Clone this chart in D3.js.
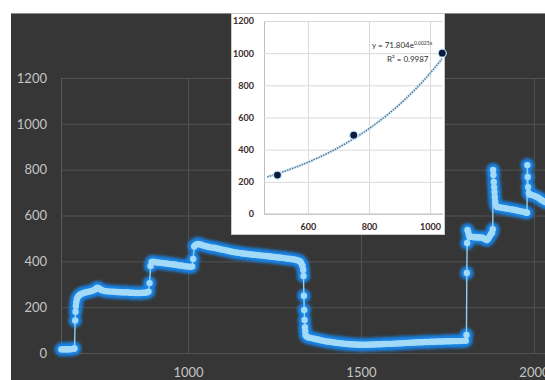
<!DOCTYPE html>
<html><head><meta charset="utf-8">
<script src="https://cdn.jsdelivr.net/npm/d3@7"></script>
<style>html,body{margin:0;padding:0;background:#fff;} svg{display:block}</style>
</head><body>
<svg id="c" width="545" height="380"></svg>
<script>
// ---------- data ----------
const mainX = [634,638,642,646,650,654,658,662,666,670,672,
674,675,676,677,679,682,686,690,695,700,706,712,718,724,730,734,738,742,746,750,756,762,768,774,780,786,792,798,804,810,816,822,828,834,840,846,852,858,864,870,876,882,886,
889,892,895,900,906,912,918,924,930,936,942,948,954,960,966,972,978,984,990,996,1002,1008,1012,
1015,1018,1022,1026,1030,1035,1040,1046,1052,1058,1064,1070,1076,1082,1088,1094,1100,1106,1112,1118,1124,1130,1136,1142,1148,1154,1160,1166,1172,1178,1184,1190,1196,1202,1208,1214,1220,1226,1232,1238,1244,1250,1256,1262,1268,1274,1280,1286,1292,1298,1304,1310,1316,1322,1326,1329,1331,
1333,1334,1335,1336,1337,1338,1339,1340,1343,1348,1354,1360,1366,1372,1378,1384,1390,1396,1402,1408,1414,1420,1426,1432,1438,1444,1450,1456,1462,1468,1474,1480,1486,1492,1498,1504,1510,1516,1522,1528,1534,1540,1546,1552,1558,1564,1570,1576,1582,1588,1594,1600,1606,1612,1618,1624,1630,1636,1642,1648,1654,1660,1666,1672,1678,1684,1690,1696,1702,1708,1714,1720,1726,1732,1738,1744,1750,1756,1762,1768,1774,1780,1786,1792,1798,1803,
1805,1806,1807,1808,1810,1812,1815,1820,1825,1830,1835,1840,1845,1850,1855,1860,1864,1868,1872,1876,1879,
1881,1882,1883,1884,1885,1886,1887,1888,1890,1894,1900,1906,1912,1918,1924,1930,1936,1942,1948,1954,1960,1966,1972,1977,1980,
1981,1982,1983,1985,1988,1992,1998,2004,2010,2016,2022,2028,2034,2040];
const mainY = [16,15,17,16,15,16,17,16,18,19,20,
142,180,205,222,236,246,252,257,260,263,265,267,269,272,276,280,285,283,278,275,272,270,269,268,268,267,266,266,265,265,264,265,264,263,263,262,262,262,262,263,263,265,268,
305,380,397,398,396,395,394,393,392,391,390,388,387,386,385,383,382,381,379,378,377,376,378,
410,465,472,475,476,474,471,468,466,464,462,460,459,457,455,453,451,449,447,445,443,441,440,438,437,435,434,433,432,431,430,429,428,427,426,425,424,423,422,421,420,419,418,417,416,415,414,412,411,410,409,407,405,402,396,388,380,
362,336,250,188,144,113,95,79,72,68,66,64,62,60,58,56,54,52,50,49,48,47,45,44,43,42,41,40,39,38,38,37,37,36,36,36,36,36,36,37,37,37,38,38,38,39,39,40,40,40,41,41,42,42,43,43,44,44,45,45,46,46,47,47,47,48,48,48,49,49,49,50,50,50,50,51,51,51,51,52,52,52,52,53,53,54,
79,349,480,537,528,515,506,508,505,506,504,505,503,504,500,496,493,500,510,520,525,
540,799,777,746,724,703,681,660,645,637,636,634,633,631,630,628,626,625,623,621,619,617,615,613,612,
820,768,724,698,692,690,688,684,680,674,668,662,658,655];
const mainXTicks = [1000, 1500, 2000];
const mainYTicks = [0, 200, 400, 600, 800, 1000, 1200];

const insetX = [500, 750, 1040];
const insetY = [242, 490, 1000];
const insetXTicks = [600, 800, 1000];
const insetYTicks = [0, 200, 400, 600, 800, 1000, 1200];
const trendA = 71.804, trendB = 0.0025;
const trendText = "y = 71.804e", trendExpText = "0.0025x", r2Text = "R² = 0.9987";

// ---------- drawing ----------
const svg = d3.select('#c');
const defs = svg.append('defs');
const f = defs.append('filter').attr('id','glow').attr('x','-50%').attr('y','-50%').attr('width','200%').attr('height','200%');
f.append('feGaussianBlur').attr('stdDeviation', 1.6);
const f2 = defs.append('filter').attr('id','soft').attr('x','-50%').attr('y','-50%').attr('width','200%').attr('height','200%');
f2.append('feGaussianBlur').attr('stdDeviation', 0.6);

svg.append('rect').attr('x', 11).attr('y', 13).attr('width', 534).attr('height', 367).attr('fill', '#363636');
svg.append('line').attr('x1', 11).attr('x2', 545).attr('y1', 13.5).attr('y2', 13.5).attr('stroke', '#8a8a8a').attr('stroke-width', 1);

const x = d3.scaleLinear().domain([633, 2032]).range([61, 545]);
const y = d3.scaleLinear().domain([0, 1200]).range([353, 78]);
const font = "Lato, 'Open Sans', sans-serif";

const gy = svg.append('g').attr('transform', 'translate(61,0)')
  .call(d3.axisLeft(y).tickValues(mainYTicks).tickSize(-484).tickSizeOuter(0).tickPadding(14).tickFormat(d3.format('d')));
gy.select('.domain').attr('stroke', '#5a5a5a');
gy.selectAll('.tick line').attr('stroke', '#535353');
gy.selectAll('.tick text').attr('fill', '#c4c4c4').style('font-family', font).style('font-size', '13px');

const gx = svg.append('g').attr('transform', 'translate(0,353)')
  .call(d3.axisBottom(x).tickValues(mainXTicks).tickSize(-275).tickSizeOuter(0).tickPadding(15).tickFormat(d3.format('d')));
gx.select('.domain').remove();
gx.selectAll('.tick line').attr('stroke', '#535353');
gx.selectAll('.tick text').attr('fill', '#c4c4c4').style('font-family', font).style('font-size', '13px');

const pts = mainX.map((v, i) => [v, mainY[i]]);
const series = svg.append('g');
series.append('g').attr('filter', 'url(#glow)').selectAll('circle').data(pts).join('circle')
  .attr('cx', d => x(d[0])).attr('cy', d => y(d[1])).attr('r', 6.8).attr('fill', '#1784e8');
series.append('path').datum(pts)
  .attr('d', d3.line().x(d => x(d[0])).y(d => y(d[1])))
  .attr('fill', 'none').attr('stroke', '#8fd0f4').attr('stroke-width', 1.4);
series.append('g').attr('filter', 'url(#soft)').selectAll('circle').data(pts).join('circle')
  .attr('cx', d => x(d[0])).attr('cy', d => y(d[1])).attr('r', 3.2).attr('fill', '#a3daf8');

// ---------- inset ----------
const inset = svg.append('g');
inset.append('rect').attr('x', 231.5).attr('y', 13.5).attr('width', 213).attr('height', 221).attr('fill', '#fff').attr('stroke', '#c8c8c8');
const ix = d3.scaleLinear().domain([456, 1049]).range([264, 445]);
const iy = d3.scaleLinear().domain([0, 1200]).range([214, 21]);

const iyg = inset.append('g').attr('transform', 'translate(264,0)')
  .call(d3.axisLeft(iy).tickValues(insetYTicks).tickSize(-179).tickSizeOuter(0).tickPadding(10).tickFormat(d3.format('d')));
iyg.select('.domain').attr('stroke', '#bdbdbd');
iyg.selectAll('.tick line').attr('stroke', '#d9d9d9');
iyg.selectAll('.tick text').attr('fill', '#3d2a2a').style('font-family', font).style('font-size', '9px').style('font-weight', 'bold');

const ixg = inset.append('g').attr('transform', 'translate(0,214)')
  .call(d3.axisBottom(ix).tickValues(insetXTicks).tickSize(-193).tickSizeOuter(0).tickPadding(10).tickFormat(d3.format('d')));
ixg.select('.domain').attr('stroke', '#bdbdbd').attr('d', 'M264,0H443');
ixg.selectAll('.tick line').attr('stroke', '#d9d9d9');
ixg.selectAll('.tick text').attr('fill', '#3d2a2a').style('font-family', font).style('font-size', '9px').style('font-weight', 'bold');

const trendXs = d3.range(467, 1041, 4);
const trendLine = d3.line().x(d => ix(d)).y(d => iy(trendA * Math.exp(trendB * d)));
inset.append('path').datum(trendXs).attr('d', trendLine)
  .attr('fill', 'none').attr('stroke', '#b9dcf2').attr('stroke-width', 3).attr('opacity', 0.6);
inset.append('path').datum(trendXs).attr('d', trendLine)
  .attr('fill', 'none').attr('stroke', '#4f6f8c').attr('stroke-width', 1.4).attr('stroke-dasharray', '1.4,1.2');

const ipts = insetX.map((v, i) => [v, insetY[i]]);
inset.selectAll('circle.h').data(ipts).join('circle').attr('class', 'h')
  .attr('cx', d => ix(d[0])).attr('cy', d => iy(d[1])).attr('r', 4.6).attr('fill', '#bfe2f7');
inset.selectAll('circle.p').data(ipts).join('circle').attr('class', 'p')
  .attr('cx', d => ix(d[0])).attr('cy', d => iy(d[1])).attr('r', 3.4).attr('fill', '#0c1a3c');

const eq = inset.append('text').attr('x', 372).attr('y', 48).attr('fill', '#2e2e2e')
  .style('font-family', font).style('font-size', '8px');
eq.append('tspan').text(trendText);
eq.append('tspan').attr('dy', -3).style('font-size', '5px').text(trendExpText);
inset.append('text').attr('x', 387).attr('y', 62).attr('fill', '#2e2e2e')
  .style('font-family', font).style('font-size', '8px').text(r2Text);
</script>
</body></html>
